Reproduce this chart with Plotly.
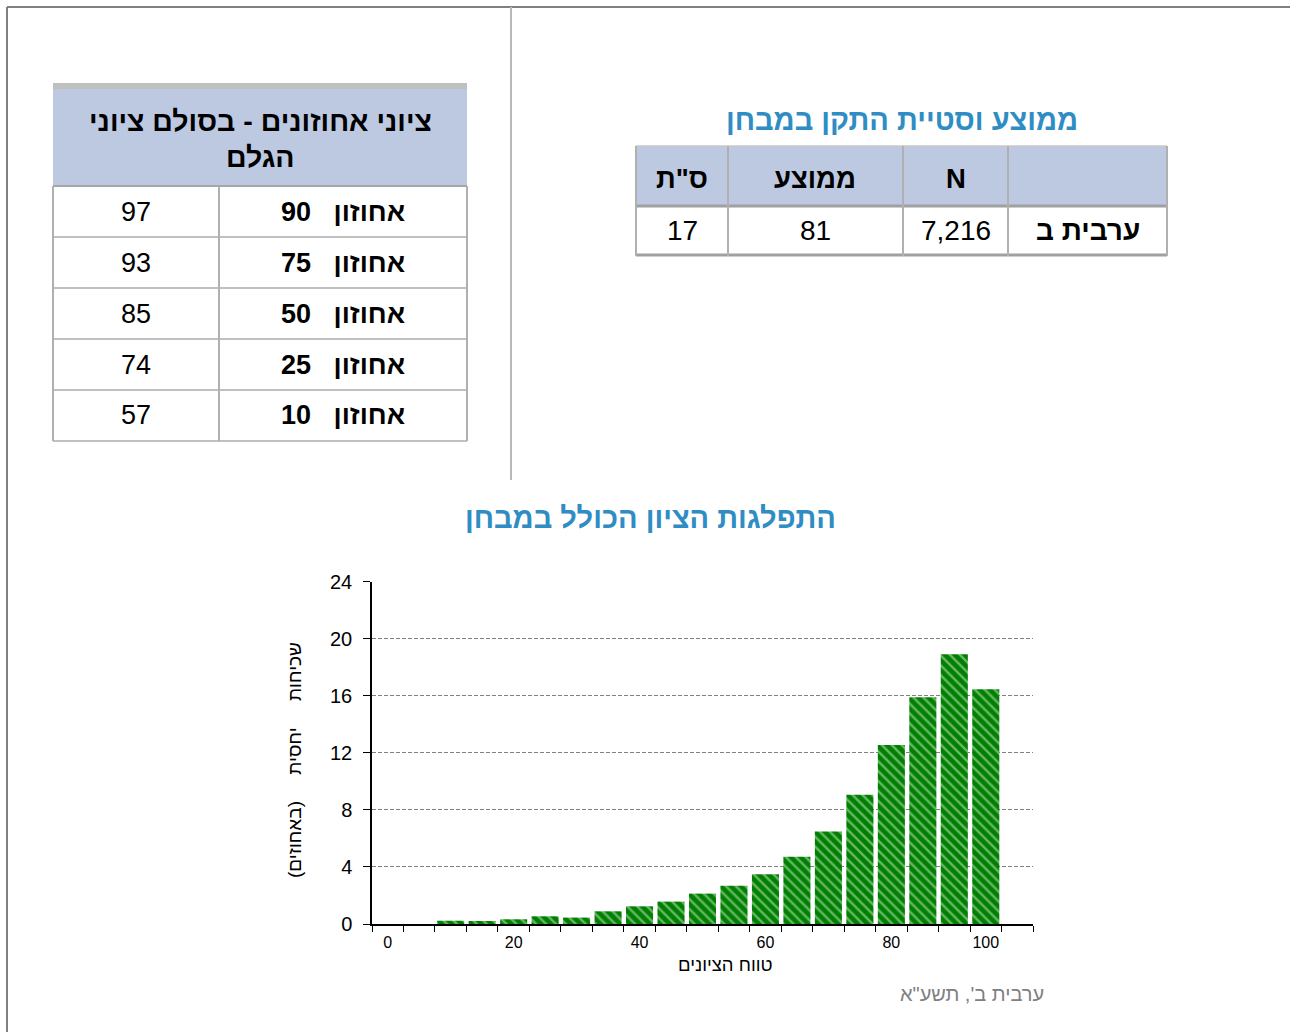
import plotly.graph_objects as go

# ---------------- data ----------------
bin_index = list(range(21))
freq = [0, 0, 0.23, 0.21, 0.33, 0.54, 0.45, 0.89, 1.24, 1.57, 2.13, 2.69,
        3.49, 4.71, 6.49, 9.06, 12.55, 15.9, 18.92, 16.46, 0]
x_tick_pos = [0, 4, 8, 12, 16, 19]
x_tick_text = ["0", "20", "40", "60", "80", "100"]
y_ticks = [0, 4, 8, 12, 16, 20, 24]

pct_header = ["ציוני אחוזונים - בסולם ציוני", "הגלם"]
pct_labels = ["90", "75", "50", "25", "10"]
pct_values = ["97", "93", "85", "74", "57"]

stat_headers = ["ס\"ת", "ממוצע", "N", ""]
stat_row = ["17", "81", "7,216", "ערבית ב"]

title_chart = "התפלגות הציון הכולל במבחן"
title_stats = "ממוצע וסטיית התקן במבחן"
x_title = "טווח הציונים"
y_title = "שכיחות\u00a0\u00a0\u00a0\u00a0\u00a0יחסית\u00a0\u00a0\u00a0\u00a0\u00a0(באחוזים)\u200f"
footer = "ערבית ב', תשע\"א"

W, H = 1290, 1032
FONT = "Liberation Sans, Arial, sans-serif"
BLUE = "#2F8DC4"
HDR = "#BDC9E1"


def px(x):
    return x / W


def py(y):
    return 1 - y / H


fig = go.Figure()
fig.add_trace(go.Bar(
    x=bin_index, y=freq,
    marker=dict(color="#008000", line=dict(width=0),
                pattern=dict(shape="\\", fgcolor="#D2EBD2", size=7,
                             solidity=0.34, fillmode="overlay")),
    width=0.86, hoverinfo="skip",
))

shapes = []
ann = []


def line(x0, y0, x1, y1, color, width):
    shapes.append(dict(type="line", xref="paper", yref="paper",
                       x0=px(x0), y0=py(y0), x1=px(x1), y1=py(y1),
                       line=dict(color=color, width=width)))


def rect(x0, y0, x1, y1, fill):
    shapes.append(dict(type="rect", xref="paper", yref="paper",
                       x0=px(x0), y0=py(y0), x1=px(x1), y1=py(y1),
                       fillcolor=fill, line=dict(width=0), layer="below"))


def text(x, y, s, size, color="#000000", bold=False, angle=0, xanchor="center"):
    if bold:
        s = "<b>" + s + "</b>"
    ann.append(dict(xref="paper", yref="paper", x=px(x), y=py(y), text=s,
                    showarrow=False, xanchor=xanchor, yanchor="middle",
                    textangle=angle,
                    font=dict(family=FONT, size=size, color=color)))


# page frame
line(7, 7, 7, 1032, "#808080", 2)
line(7, 7, 1290, 7, "#808080", 2)
line(511, 7, 511, 480, "#B8B8B8", 2)

# ---------- left table (percentiles) ----------
LX0, LXM, LX1 = 53, 219, 467
rect(LX0, 83, LX1, 89, "#C0C0C0")
rect(LX0, 89, LX1, 185, HDR)
text((LX0 + LX1) / 2, 121, pct_header[0], 28.5, bold=True)
text((LX0 + LX1) / 2, 157, pct_header[1], 28.5, bold=True)
row_top = 186
row_h = 51
n = len(pct_labels)
line(LX0, 186, LX1, 186, "#A6A6A6", 2)
for i in range(n):
    yb = row_top + (i + 1) * row_h
    line(LX0, yb, LX1, yb, "#C0C0C0", 2)
    yc = row_top + i * row_h + row_h / 2
    text((LX0 + LXM) / 2, yc, pct_values[i], 27)
    text((LXM + LX1) / 2, yc, "אחוזון\u00a0\u00a0\u00a0" + pct_labels[i], 27, bold=True)
line(LX0, 186, LX0, row_top + n * row_h, "#B0B0B0", 2)
line(LX1, 186, LX1, row_top + n * row_h, "#B0B0B0", 2)
line(LXM, 186, LXM, row_top + n * row_h, "#B0B0B0", 2)

# ---------- right table (stats) ----------
text(902, 120, title_stats, 29, color=BLUE, bold=True)
cols = [636, 728, 903, 1008, 1167]
rect(636, 146, 1167, 205, HDR)
line(636, 146, 1167, 146, "#C8C8C8", 1.5)
line(636, 206, 1167, 206, "#A0A0A0", 3)
line(636, 255, 1167, 255, "#A0A0A0", 3)
for c in cols:
    line(c, 146, c, 256, "#B0B0B0", 2)
for i in range(4):
    cx = (cols[i] + cols[i + 1]) / 2
    if stat_headers[i]:
        text(cx, 179, stat_headers[i], 27.5, bold=True)
    text(cx, 231, stat_row[i], 28, bold=(i == 3))

# ---------- chart texts ----------
text(650, 518, title_chart, 29, color=BLUE, bold=True)
text(725, 964, x_title, 18.5)
text(294, 760, y_title, 19, angle=-90)
text(972, 994, footer, 20, color="#808080")

fig.update_layout(
    width=W, height=H, autosize=False,
    margin=dict(l=0, r=0, t=0, b=0, pad=0, autoexpand=False),
    paper_bgcolor="white", plot_bgcolor="white",
    showlegend=False, bargap=0.14,
    shapes=shapes, annotations=ann,
    font=dict(family=FONT, color="#000000"),
    xaxis=dict(
        domain=[px(372), px(1033)],
        range=[-0.5, 20.5], automargin=False,
        tickmode="array", tickvals=x_tick_pos, ticktext=x_tick_text,
        ticks="", showgrid=False, zeroline=False,
        showline=True, linecolor="#000000", linewidth=1.5,
        tickfont=dict(size=16, family=FONT, color="#000000"),
        ticklabelstandoff=3,
        minor=dict(tickmode="array", tickvals=[k - 0.5 for k in range(22)],
                   ticks="outside", ticklen=6, tickcolor="#000000",
                   tickwidth=1, showgrid=False),
        fixedrange=True,
    ),
    yaxis=dict(
        domain=[py(924), py(581.7)],
        range=[0, 24], automargin=False,
        tickmode="array", tickvals=y_ticks,
        ticks="outside", ticklen=7, tickcolor="#000000", tickwidth=1,
        showgrid=True, gridcolor="#808080", griddash="4px,2px", gridwidth=1,
        zeroline=False,
        showline=True, linecolor="#000000", linewidth=1.5,
        tickfont=dict(size=20, family=FONT, color="#000000"),
        ticklabelstandoff=7,
        fixedrange=True,
    ),
)

fig.write_html(
    "out.html",
    config={"displayModeBar": False},
    post_script="document.body.style.margin='0px';document.body.style.overflow='hidden';",
)
